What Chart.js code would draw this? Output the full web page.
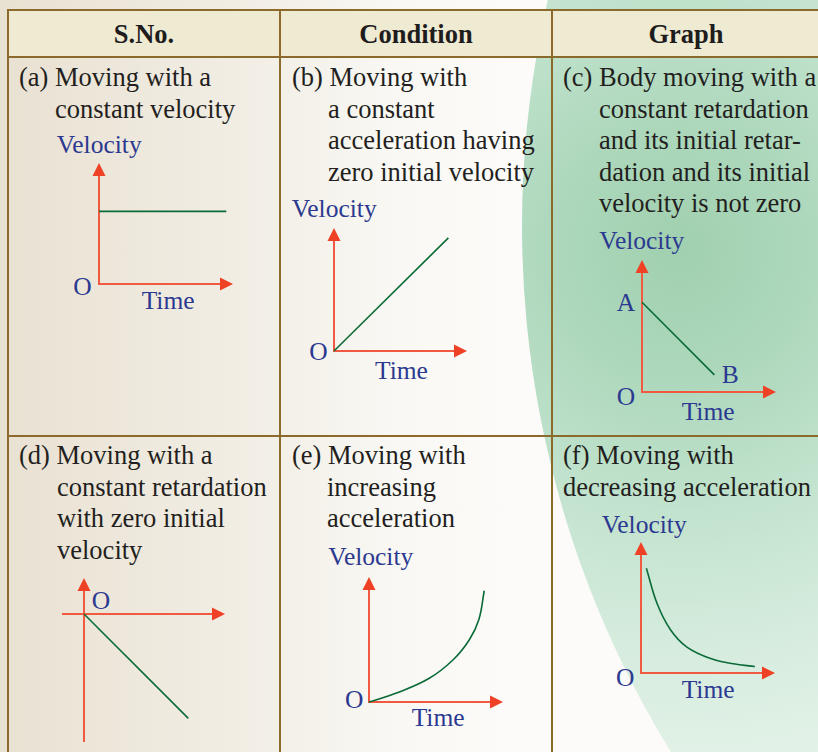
<!DOCTYPE html>
<html><head><meta charset="utf-8">
<script src="https://cdn.jsdelivr.net/npm/chart.js@4.4.0/dist/chart.umd.min.js"></script>
<style>
html,body{margin:0;padding:0;}
body{width:818px;height:752px;position:relative;overflow:hidden;background:linear-gradient(to right,#E9E1D2 0px,#F2EEE5 250px,#F9F8F4 400px,#FCFBF9 520px);font-family:"Liberation Serif","Times New Roman",serif;}
#green{position:absolute;left:522px;top:-778px;width:2008px;height:2008px;border-radius:50%;background:radial-gradient(circle at 158px 1028px,#A0D0AF 0px,#ACD7BB 120px,#C0E2CC 250px,#D6ECDE 400px,#E6F3EA 550px,#EEF7F1 800px);}
#head{position:absolute;left:8px;top:10px;width:812px;height:46px;background:#EFEAD2;}
.ln{position:absolute;background:#8B6A2C;}
.hd{position:absolute;top:11px;height:46px;line-height:46px;text-align:center;font-weight:bold;font-size:26.5px;color:#1E1C1C;}
.txt{position:absolute;font-size:26.5px;line-height:31.5px;color:#231F20;white-space:nowrap;}
.lab{position:absolute;font-size:25.5px;line-height:25.5px;color:#2B3990;white-space:nowrap;}
canvas{position:absolute;}
</style></head>
<body>
<div id="green"></div>
<div id="head"></div>
<div class="ln" style="left:7px;top:9px;width:820px;height:2px"></div>
<div class="ln" style="left:7px;top:56px;width:820px;height:2px"></div>
<div class="ln" style="left:7px;top:435px;width:820px;height:2px"></div>
<div class="ln" style="left:7px;top:9px;width:2px;height:760px"></div>
<div class="ln" style="left:279px;top:9px;width:2px;height:760px"></div>
<div class="ln" style="left:551px;top:9px;width:2px;height:760px"></div>

<div class="hd" style="left:9px;width:270px">S.No.</div>
<div class="hd" style="left:281px;width:270px">Condition</div>
<div class="hd" style="left:553px;width:266px">Graph</div>

<div class="txt" style="left:19px;top:62.3px;padding-left:36px;text-indent:-36px">(a) Moving with a<br>constant velocity</div>
<div class="txt" style="left:292px;top:62.3px;padding-left:36px;text-indent:-36px">(b) Moving with<br>a constant<br>acceleration having<br>zero initial velocity</div>
<div class="txt" style="left:563px;top:62.3px;padding-left:36px;text-indent:-36px">(c) Body moving with a<br>constant retardation<br>and its initial retar-<br>dation and its initial<br>velocity is not zero</div>
<div class="txt" style="left:19px;top:440.3px;padding-left:38px;text-indent:-38px">(d) Moving with a<br>constant retardation<br>with zero initial<br>velocity</div>
<div class="txt" style="left:292px;top:440.3px;padding-left:35px;text-indent:-35px">(e) Moving with<br>increasing<br>acceleration</div>
<div class="txt" style="left:563px;top:440.3px">(f) Moving with<br>decreasing acceleration</div>

<div class="lab" style="left:56.7px;top:132px">Velocity</div>
<div class="lab" style="left:73.3px;top:274.3px">O</div>
<div class="lab" style="left:141.7px;top:288px">Time</div>

<div class="lab" style="left:291.7px;top:196px">Velocity</div>
<div class="lab" style="left:309.3px;top:338.6px">O</div>
<div class="lab" style="left:375px;top:357.6px">Time</div>

<div class="lab" style="left:599.3px;top:228px">Velocity</div>
<div class="lab" style="left:616.7px;top:289.6px">A</div>
<div class="lab" style="left:721.7px;top:362px">B</div>
<div class="lab" style="left:616.7px;top:383.6px">O</div>
<div class="lab" style="left:681.7px;top:398.6px">Time</div>

<div class="lab" style="left:91.7px;top:587.6px">O</div>

<div class="lab" style="left:328.3px;top:543.6px">Velocity</div>
<div class="lab" style="left:345px;top:687px">O</div>
<div class="lab" style="left:411.7px;top:704.6px">Time</div>

<div class="lab" style="left:601.7px;top:512px">Velocity</div>
<div class="lab" style="left:616px;top:664.6px">O</div>
<div class="lab" style="left:681.7px;top:677px">Time</div>

<script>
// ---- data (time, velocity) ----
const timeA = [0, 9.5];
const velocityA = [6, 6];
const timeB = [0, 8.6];
const velocityB = [0, 9.2];
const timeC = [0, 5.4];
const velocityC = [6.8, 1.3];
const timeD = [0, 7.4];
const velocityD = [0, -7.4];
const timeE = [0, 2, 4.5, 6.3, 7.5, 8.2, 8.6];
const velocityE = [0, 0.7, 1.9, 3.4, 5, 6.6, 8.9];
const timeF = [0.4, 1.2, 2.2, 3.4, 5.2, 6.9, 8.5];
const velocityF = [8.0, 5.3, 3.3, 2.0, 1.1, 0.7, 0.5];

// axis value ranges [min, max]
const rangeStd = [0, 10];
const rangeDx = [-1.56, 10];
const rangeDy = [-9.08, 2.55];

// ---- layout (page pixel box of each mini-graph's axes) ----
const graphs = [
  {t: timeA, v: velocityA, xr: rangeStd, yr: rangeStd, box: {l: 99, r: 233, t: 163, b: 284}, curve: false},
  {t: timeB, v: velocityB, xr: rangeStd, yr: rangeStd, box: {l: 334, r: 467, t: 228, b: 351}, curve: false},
  {t: timeC, v: velocityC, xr: rangeStd, yr: rangeStd, box: {l: 641.5, r: 775, t: 260, b: 392}, curve: false},
  {t: timeD, v: velocityD, xr: rangeDx, yr: rangeDy, box: {l: 62, r: 225, t: 578, b: 742}, curve: false},
  {t: timeE, v: velocityE, xr: rangeStd, yr: rangeStd, box: {l: 369, r: 503, t: 577, b: 702}, curve: true},
  {t: timeF, v: velocityF, xr: rangeStd, yr: rangeStd, box: {l: 641, r: 775, t: 542, b: 673}, curve: true}
];

const arrowAxes = {
  id: 'arrowAxes',
  beforeDatasetsDraw(chart) {
    const ctx = chart.ctx, x = chart.scales.x, y = chart.scales.y;
    const x0 = x.getPixelForValue(0), y0 = y.getPixelForValue(0);
    const xL = x.getPixelForValue(x.min), xR = x.getPixelForValue(x.max);
    const yT = y.getPixelForValue(y.max), yB = y.getPixelForValue(y.min);
    const L = 13, W = 6.5;
    ctx.save();
    ctx.strokeStyle = '#F15A40';
    ctx.lineWidth = 2;
    ctx.lineJoin = 'miter';
    ctx.beginPath();
    if (Math.abs(xL - x0) < 0.5 && Math.abs(yB - y0) < 0.5) {
      ctx.moveTo(x0, yT + L - 1);
      ctx.lineTo(x0, y0);
      ctx.lineTo(xR - L + 1, y0);
    } else {
      ctx.moveTo(xL, y0); ctx.lineTo(xR - L + 1, y0);
      ctx.moveTo(x0, yB); ctx.lineTo(x0, yT + L - 1);
    }
    ctx.stroke();
    ctx.fillStyle = '#EE4125';
    ctx.beginPath();
    ctx.moveTo(xR, y0); ctx.lineTo(xR - L, y0 - W); ctx.lineTo(xR - L, y0 + W); ctx.closePath();
    ctx.fill();
    ctx.beginPath();
    ctx.moveTo(x0, yT); ctx.lineTo(x0 - W, yT + L); ctx.lineTo(x0 + W, yT + L); ctx.closePath();
    ctx.fill();
    ctx.restore();
  }
};

const P = 12;
graphs.forEach(g => {
  const c = document.createElement('canvas');
  const w = Math.round(g.box.r - g.box.l + 2 * P);
  const h = Math.round(g.box.b - g.box.t + 2 * P);
  c.width = w; c.height = h;
  c.style.width = w + 'px'; c.style.height = h + 'px';
  c.style.left = (g.box.l - P) + 'px';
  c.style.top = (g.box.t - P) + 'px';
  document.body.appendChild(c);
  new Chart(c, {
    type: 'scatter',
    data: {
      datasets: [{
        data: g.t.map((t, i) => ({x: t, y: g.v[i]})),
        showLine: true,
        borderColor: '#0B6B38',
        borderWidth: 1.6,
        pointRadius: 0,
        fill: false,
        clip: false,
        tension: g.curve ? 0.4 : 0,
        cubicInterpolationMode: 'default'
      }]
    },
    options: {
      responsive: false,
      animation: false,
      devicePixelRatio: 1,
      events: [],
      layout: {padding: P},
      plugins: {legend: {display: false}, tooltip: {enabled: false}},
      scales: {
        x: {type: 'linear', display: false, min: g.xr[0], max: g.xr[1]},
        y: {type: 'linear', display: false, min: g.yr[0], max: g.yr[1]}
      }
    },
    plugins: [arrowAxes]
  });
});
</script>
</body></html>
